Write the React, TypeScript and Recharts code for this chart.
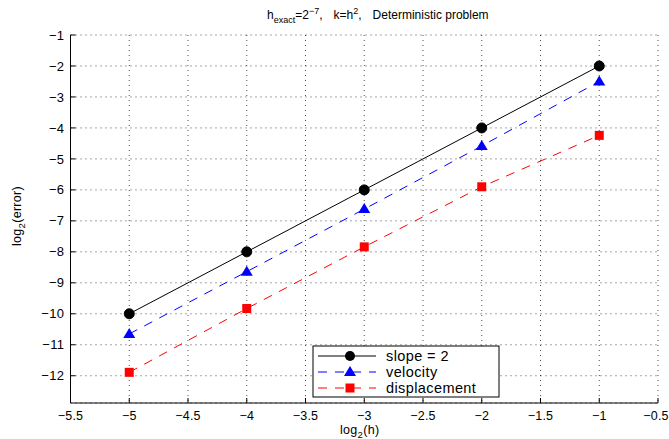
import React from 'react';
import { LineChart, Line, XAxis, YAxis, CartesianGrid, Customized } from 'recharts';

const logH = [-5, -4, -3, -2, -1];
const slope2 = [-10, -8, -6, -4, -2];
const velocity = [-10.65, -8.64, -6.62, -4.58, -2.5];
const displacement = [-11.89, -9.83, -7.84, -5.9, -4.24];
const xTicks = [-5.5, -5, -4.5, -4, -3.5, -3, -2.5, -2, -1.5, -1, -0.5];
const yTicks = [-12, -11, -10, -9, -8, -7, -6, -5, -4, -3, -2, -1];
const seriesNames = ['slope = 2', 'velocity', 'displacement'];

const data = logH.map((h, i) => ({ h, slope: slope2[i], vel: velocity[i], disp: displacement[i] }));

const FONT = 'Liberation Sans, Arial, Helvetica, sans-serif';
const fmt = (v: number) => String(v).replace('-', '\u2212');

const Circle = (p: any) => <circle key={p.index} cx={p.cx} cy={p.cy} r={5} fill="#000" stroke="#000" />;
const Tri = (p: any) => (
  <polygon key={p.index} points={`${p.cx},${p.cy - 6} ${p.cx - 6},${p.cy + 4} ${p.cx + 6},${p.cy + 4}`} fill="#0000ff" />
);
const Sq = (p: any) => <rect key={p.index} x={p.cx - 4.5} y={p.cy - 4.5} width={9} height={9} fill="#ff0000" />;

const XTick = (p: any) => {
  const last = p.payload.value === xTicks[xTicks.length - 1];
  return (
    <text x={p.x + (last ? -2 : 0)} y={p.y} dy="0.71em" textAnchor="middle" fontSize={12.5}
      fontFamily={FONT} fill="#000" letterSpacing={0.2}>
      {fmt(p.payload.value)}
    </text>
  );
};

const Title = () => (
  <g fontFamily={FONT} fill="#000">
    <text x={267} y={19} fontSize={12}>
      h<tspan fontSize={9} dy={4}>exact</tspan>
      <tspan dy={-4}>=2</tspan>
      <tspan fontSize={9} dy={-5}>{'\u22127'}</tspan>
      <tspan dy={5}>,</tspan>
      <tspan dx={11}>k=h</tspan>
      <tspan fontSize={9} dy={-5}>2</tspan>
      <tspan dy={5}>,</tspan>
      <tspan dx={11}>Deterministic problem</tspan>
    </text>
    <text x={340} y={434} fontSize={12.5} letterSpacing={0.3}>
      log<tspan fontSize={9.5} dy={4}>2</tspan><tspan dy={-4}>(h)</tspan>
    </text>
    <text transform="translate(21,216) rotate(-90)" textAnchor="middle" fontSize={12.5} letterSpacing={0.3}>
      log<tspan fontSize={9.5} dy={4}>2</tspan><tspan dy={-4}>(error)</tspan>
    </text>
  </g>
);

const LegendBox = () => {
  const x0 = 313, y0 = 346, w = 186, h = 51;
  const rows = [356, 372, 388];
  return (
    <g fontFamily={FONT}>
      <rect x={x0} y={y0} width={w} height={h} fill="#fff" stroke="#000" strokeWidth={1} />
      <line x1={318} x2={376} y1={rows[0]} y2={rows[0]} stroke="#000" />
      <circle cx={350} cy={rows[0]} r={5} fill="#000" />
      <line x1={318} x2={376} y1={rows[1]} y2={rows[1]} stroke="#0000ff" strokeDasharray="9 8" />
      <polygon points={`350,${rows[1] - 6} 344,${rows[1] + 4} 356,${rows[1] + 4}`} fill="#0000ff" />
      <line x1={318} x2={376} y1={rows[2]} y2={rows[2]} stroke="#ff0000" strokeDasharray="9 8" />
      <rect x={345.5} y={rows[2] - 4.5} width={9} height={9} fill="#ff0000" />
      {seriesNames.map((n, i) => (
        <text key={n} x={386} y={rows[i] + 5} fontSize={14.5} letterSpacing={0.4} fill="#000">{n}</text>
      ))}
    </g>
  );
};

const yTickStyle = { fill: '#000', fontSize: 13, fontFamily: FONT, letterSpacing: 0.4 };

export default function App() {
  return (
    <div style={{ position: 'absolute', left: 0, top: 0, background: '#fff' }}>
      <LineChart width={669} height={439} data={data} margin={{ top: 35, right: 11, bottom: 6, left: 20 }}>
        <CartesianGrid stroke="#000" strokeOpacity={0.7} strokeDasharray="1 4" />
        <XAxis
          dataKey="h" type="number" domain={[-5.5, -0.5]} ticks={xTicks} interval={0}
          tickFormatter={fmt} height={30} tickSize={-5} tickMargin={13}
          stroke="#000" tick={XTick}
          axisLine={{ stroke: '#000' }} tickLine={{ stroke: '#000' }}
        />
        <XAxis
          xAxisId="top" orientation="top" dataKey="h" type="number" domain={[-5.5, -0.5]} ticks={xTicks}
          interval={0} height={0} tickSize={-5} tick={false} stroke="#000"
        />
        <YAxis
          type="number" domain={[-12.88, -1]} ticks={yTicks} interval={0} allowDataOverflow
          tickFormatter={fmt} width={50.5} tickSize={-5} tickMargin={11}
          stroke="#000" tick={yTickStyle}
        />
        <YAxis
          yAxisId="right" orientation="right" type="number" domain={[-12.88, -1]} ticks={yTicks}
          interval={0} width={0} tickSize={-5} tick={false} stroke="#000"
        />
        <Line dataKey="slope" stroke="#000" strokeWidth={1} dot={Circle} isAnimationActive={false} />
        <Line dataKey="vel" stroke="#0000ff" strokeWidth={1} strokeDasharray="9 8" dot={Tri} isAnimationActive={false} />
        <Line dataKey="disp" stroke="#ff0000" strokeWidth={1} strokeDasharray="9 8" dot={Sq} isAnimationActive={false} />
        <Customized component={Title} />
        <Customized component={LegendBox} />
      </LineChart>
    </div>
  );
}
